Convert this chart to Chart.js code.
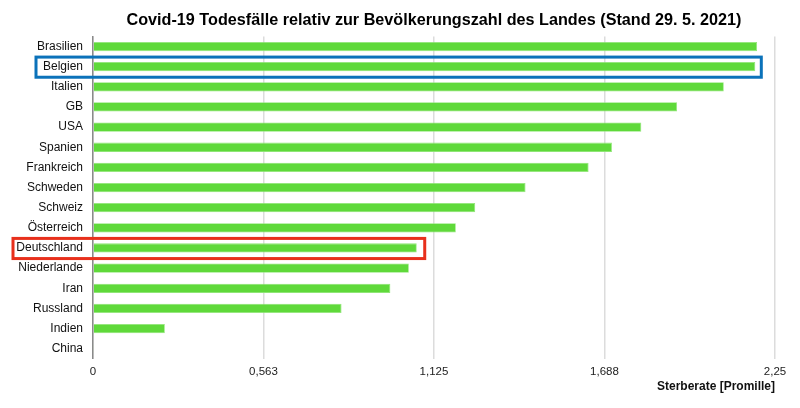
<!DOCTYPE html>
<html>
<head>
<meta charset="utf-8">
<script src="https://cdn.jsdelivr.net/npm/chart.js@4/dist/chart.umd.min.js"></script>
<style>
  html, body { margin: 0; padding: 0; background: #fff; }
  #wrap { width: 800px; height: 408px; }
</style>
</head>
<body>
<div id="wrap"><canvas id="barChart"></canvas></div>
<script>
/* DATA */
const countries = ['Brasilien', 'Belgien', 'Italien', 'GB', 'USA', 'Spanien', 'Frankreich', 'Schweden',
    'Schweiz', 'Österreich', 'Deutschland', 'Niederlande', 'Iran', 'Russland', 'Indien', 'China'];
const deathRates = [2.191, 2.185, 2.081, 1.927, 1.809, 1.712, 1.635, 1.427,
    1.261, 1.197, 1.068, 1.042, 0.981, 0.820, 0.237, 0.003];
const xTickLabels = ['0', '0,563', '1,125', '1,688', '2,25'];
const highlightBlue = 'Belgien';
const highlightRed = 'Deutschland';

const FONT = 'Helvetica, Arial, "Liberation Sans", sans-serif';

/* HIGHLIGHT BOXES */
const highlightBoxes = {
    id: 'highlightBoxes',
    afterDatasetsDraw(chart) {
        const ctx = chart.ctx;
        const x = chart.scales.x;
        const y = chart.scales.y;
        const step = y.getPixelForValue(1) - y.getPixelForValue(0);

        function box(name, left, extra, color) {
            const i = countries.indexOf(name);
            const cy = y.getPixelForValue(i);
            const right = x.getPixelForValue(deathRates[i]) + extra;
            ctx.save();
            ctx.strokeStyle = color;
            ctx.lineWidth = 3;
            ctx.strokeRect(left, cy - step / 2 + 0.5, right - left, step);
            ctx.restore();
        }

        box(highlightBlue, 36, 6, '#0b72ba');
        box(highlightRed, 13, 8, '#e8301c');
    }
};

const ctx = document.getElementById('barChart').getContext('2d');
const barChart = new Chart(ctx, {
    type: 'bar',
    data: {
        labels: countries,
        datasets: [{
            data: deathRates,
            backgroundColor: '#5fd93a',
            borderColor: '#8fe676',
            borderWidth: 0.8,
            barPercentage: 0.46,
            categoryPercentage: 1,
        }],
    },
    options: {
        indexAxis: 'y',
        responsive: true,
        maintainAspectRatio: false,
        animation: false,
        layout: {
            padding: { left: 0, right: 25, top: 5, bottom: 14 },
        },
        scales: {
            x: {
                min: 0,
                max: 2.25,
                afterBuildTicks(scale) {
                    scale.ticks = xTickLabels.map((t, i) => ({ value: i * 0.5625 }));
                },
                ticks: {
                    color: '#222',
                    font: { family: FONT, size: 11.5 },
                    padding: 6,
                    maxRotation: 0,
                    callback: (v, i) => xTickLabels[i],
                },
                grid: {
                    color: '#dcdcdc',
                    lineWidth: 1.5,
                    drawTicks: false,
                },
                border: { display: false },
                title: {
                    display: true,
                    text: 'Sterberate [Promille]',
                    align: 'end',
                    color: '#111',
                    font: { family: FONT, size: 12, weight: 'bold' },
                    padding: { top: -5, bottom: 0 },
                },
            },
            y: {
                afterFit(scale) {
                    scale.width = 93;
                },
                ticks: {
                    color: '#111',
                    font: { family: FONT, size: 12 },
                    padding: 2,
                },
                grid: { display: false },
                border: { display: true, color: '#8a8a8a', width: 1.5 },
            },
        },
        plugins: {
            legend: { display: false },
            tooltip: { enabled: false },
            title: {
                display: true,
                fullSize: false,
                text: 'Covid-19 Todesfälle relativ zur Bevölkerungszahl des Landes (Stand 29. 5. 2021)',
                color: '#000',
                font: { family: FONT, size: 16.2, weight: 'bold' },
                padding: { top: 6, bottom: 6 },
            },
        },
    },
    plugins: [highlightBoxes],
});
</script>
</body>
</html>
